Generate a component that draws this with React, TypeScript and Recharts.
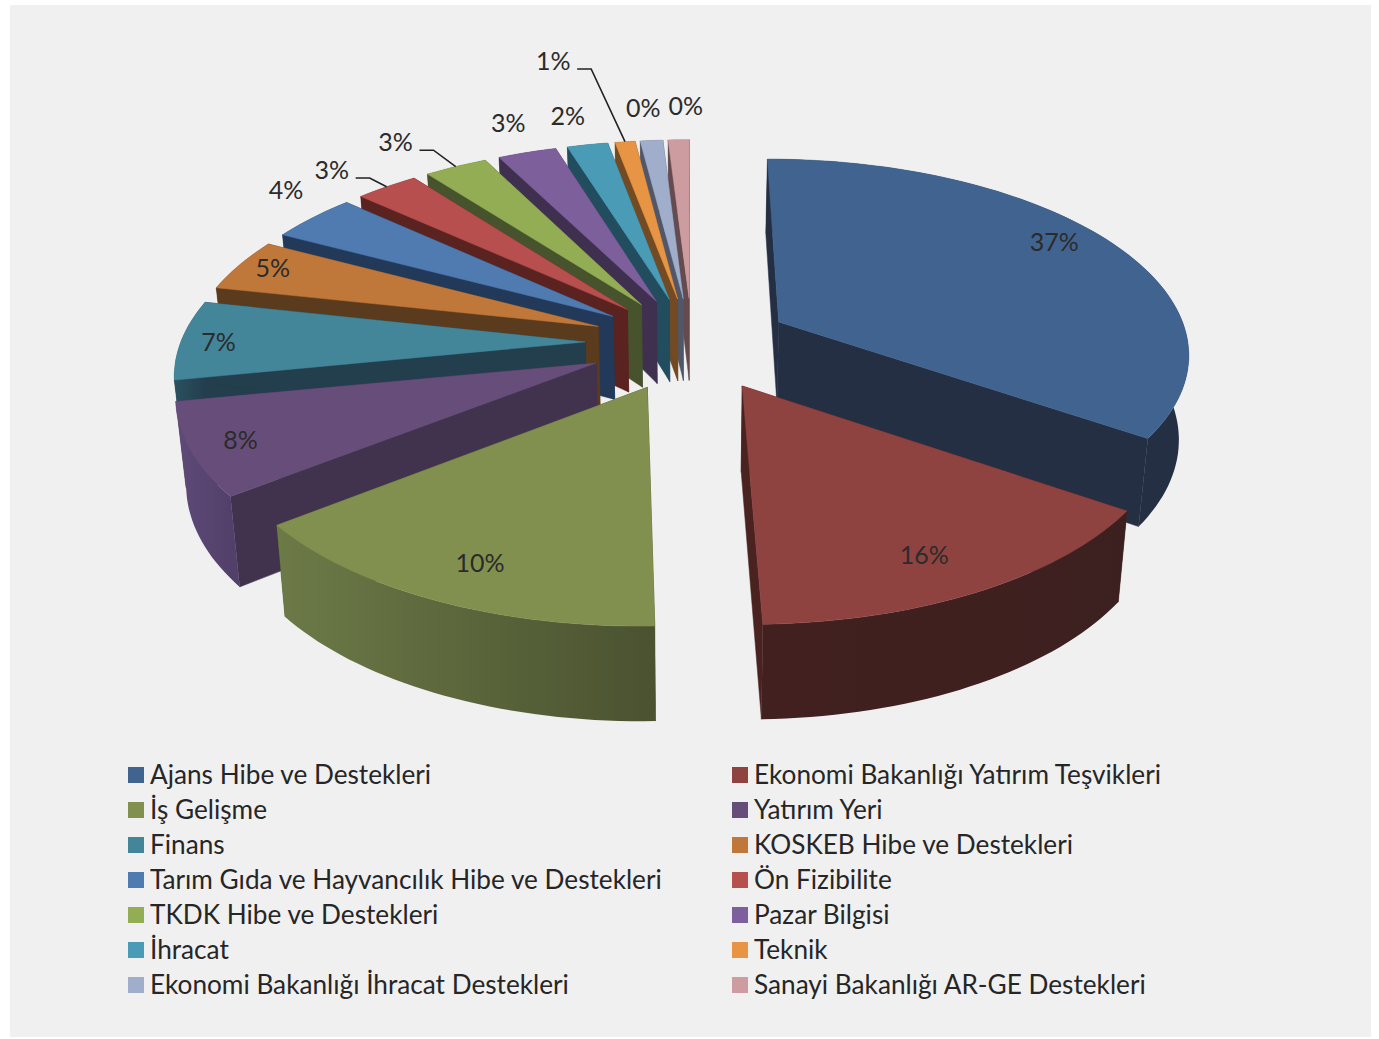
import React from 'react';
import { PieChart, Pie, Legend } from 'recharts';

const names = [
  'Ajans Hibe ve Destekleri', 'Ekonomi Bakanlığı Yatırım Teşvikleri', 'İş Gelişme', 'Yatırım Yeri',
  'Finans', 'KOSKEB Hibe ve Destekleri', 'Tarım Gıda ve Hayvancılık Hibe ve Destekleri', 'Ön Fizibilite',
  'TKDK Hibe ve Destekleri', 'Pazar Bilgisi', 'İhracat', 'Teknik',
  'Ekonomi Bakanlığı İhracat Destekleri', 'Sanayi Bakanlığı AR-GE Destekleri',
];
// Drawn slice shares (sweep of each wedge, in % of the circle)
const drawnShare = [34.17, 15.39, 15.25, 7.61, 6.5, 4.31, 3.92, 2.81, 2.81, 2.61, 1.81, 0.89, 1.0, 0.94];
// Percentages as printed on the chart
const printedLabels = ['37%', '16%', '10%', '8%', '7%', '5%', '4%', '3%', '3%', '3%', '2%', '1%', '0%', '0%'];

const topColors = ['#40648f', '#8f4340', '#81904f', '#674e7a', '#43869a', '#c0773a', '#4f7bb1', '#b64f4e', '#93ad55', '#7c5f9b', '#4a9cb6', '#e79544', '#a0aecb', '#cc9ca0'];
const cutColors = ['#242f44', '#4a2220', '#4a502f', '#41324e', '#233f4d', '#5a3b1e', '#23395a', '#5a2320', '#46532c', '#3f3050', '#224d5f', '#744a22', '#50576a', '#664b4e'];
const wallLeft = ['#242f44', '#42201f', '#6c7a47', '#5f4a78', '#2a5060', '#5a3b1e', '#23395a', '#5a2320', '#46532c', '#3f3050', '#224d5f', '#744a22', '#50576a', '#664b4e'];
const wallRight = ['#242f44', '#3c2020', '#4a5230', '#53406a', '#233f4d', '#5a3b1e', '#23395a', '#5a2320', '#46532c', '#3f3050', '#224d5f', '#744a22', '#50576a', '#664b4e'];

// Label placement in the plane of the pie: clock angle, distance from the centre
const labelAngle = [57.6, 152, 205, 247, 272, 292.6, 310, 316.8, 326.2, 339.2, 346, 347.3, 354.6, 359.3];
const labelRadius = [459, 440, 444, 465, 476, 478, 587, 591, 610, 600, 599, 766, 608, 610];
const leaderSlices = [7, 8, 11];

// How far each wedge's rim and point are pulled out of the pie
const rimExplode = [97, 100, 100, 100, 100, 100, 100, 100, 100, 100, 100, 100, 100, 100];
const tipExplode = [100, 100, 100, 103, 107, 102, 100, 100, 100, 100, 100, 100, 100, 100];

const table = names.map((name, i) => ({ name, value: drawnShare[i], fill: topColors[i] }));
const tableReversed = [...table].reverse();
const frontSlices = [0, 1];

const FONT = 'Lato, Carlito, sans-serif';
const RADIUS = 414;
const TIP_LIFT = 6;
const PERSP = 0.000285;
const TILT = 0.4692;
const DEPTH = 84.2;
const DEPTH_GROW = 0.000257;
const rad = (d: number) => (d * Math.PI) / 180;

const planePoint = (cx: number, cy: number, u: number, v: number) => {
  const s = 1 / (1 - PERSP * v);
  return { x: cx + u * s, y: cy + TILT * v * s, v };
};
const slicePoint = (cx: number, cy: number, mid: number, e: number, a: number, r: number) =>
  planePoint(cx, cy, e * Math.sin(rad(mid)) + r * Math.sin(rad(a)), -(e * Math.cos(rad(mid)) + r * Math.cos(rad(a))));
const lower = (cx: number, p: { x: number; y: number; v: number }) => ({
  x: cx + (p.x - cx) * 0.98,
  y: p.y + DEPTH * (1 + DEPTH_GROW * p.v),
  v: p.v,
});
const toPath = (pts: { x: number; y: number }[]) =>
  pts.map((p, i) => `${i ? 'L' : 'M'}${p.x.toFixed(1)} ${p.y.toFixed(1)}`).join(' ') + ' Z';

const Wedge = (props: any, show: (i: number) => boolean) => {
  const i = names.indexOf(props.name);
  if (i < 0 || !show(i)) return <g />;
  const { cx, cy, outerRadius, startAngle, endAngle } = props;
  const a0 = 90 - Math.max(startAngle, endAngle);
  const a1 = 90 - Math.min(startAngle, endAngle);
  const mid = (a0 + a1) / 2;
  const rawTip = slicePoint(cx, cy, mid, tipExplode[i], a0, 0);
  const tip = { ...rawTip, y: rawTip.y - TIP_LIFT };
  const arc: { x: number; y: number; v: number }[] = [];
  const steps = Math.max(2, Math.ceil((a1 - a0) / 1.5));
  for (let k = 0; k <= steps; k++) arc.push(slicePoint(cx, cy, mid, rimExplode[i], a0 + ((a1 - a0) * k) / steps, outerRadius));
  const first = arc[0];
  const last = arc[arc.length - 1];
  const gradId = `wall-${i}`;
  const xs = arc.map((p) => p.x);
  const wall = [...arc, ...arc.map((p) => lower(cx, p)).reverse()];
  const cut = (edge: { x: number; y: number; v: number }) => [tip, edge, lower(cx, edge), lower(cx, tip)];
  return (
    <g>
      <defs>
        <linearGradient id={gradId} gradientUnits="userSpaceOnUse" x1={Math.min(...xs)} x2={Math.max(...xs)} y1={0} y2={0}>
          <stop offset="0%" stopColor={wallLeft[i]} />
          <stop offset="100%" stopColor={wallRight[i]} />
        </linearGradient>
      </defs>
      <path d={toPath(cut(first))} fill={cutColors[i]} stroke={cutColors[i]} strokeWidth={0.5} />
      <path d={toPath(cut(last))} fill={cutColors[i]} stroke={cutColors[i]} strokeWidth={0.5} />
      <path d={toPath(wall)} fill={`url(#${gradId})`} />
      <path d={toPath([tip, ...arc])} fill={topColors[i]} stroke={topColors[i]} strokeWidth={0.5} />
    </g>
  );
};

const SliceLabel = (props: any) => {
  const i = names.indexOf(props.name);
  if (i < 0) return null;
  const { cx, cy, outerRadius, startAngle, endAngle } = props;
  const a = labelAngle[i];
  const r = labelRadius[i];
  const p = planePoint(cx, cy, r * Math.sin(rad(a)), -r * Math.cos(rad(a)));
  const ly = p.y - 1;
  const a0 = 90 - Math.max(startAngle, endAngle);
  const a1 = 90 - Math.min(startAngle, endAngle);
  const mid = (a0 + a1) / 2;
  const end = slicePoint(cx, cy, mid, rimExplode[i], mid, outerRadius);
  return (
    <g>
      <text x={p.x} y={ly} textAnchor="middle" dominantBaseline="central" fontFamily={FONT} fontSize={25} fill="#2b2b2b">
        {printedLabels[i]}
      </text>
      {leaderSlices.includes(i) && (
        <polyline
          points={`${p.x + 24},${ly + 9} ${p.x + 38},${ly + 9} ${end.x},${end.y}`}
          fill="none"
          stroke="#222"
          strokeWidth={1.6}
        />
      )}
    </g>
  );
};

const LegendGrid = ({ payload }: any) => {
  const rows = names
    .map((n) => (payload || []).find((e: any) => e.value === n))
    .filter(Boolean);
  return (
    <div
      style={{
        position: 'absolute', left: 128, top: 756, display: 'grid',
        gridTemplateColumns: '604px 604px', gridAutoRows: '35px',
        fontFamily: FONT, fontSize: 26.2, color: '#262626', whiteSpace: 'nowrap',
      }}
    >
      {rows.map((e: any) => (
        <div key={e.value} style={{ display: 'flex', alignItems: 'center', height: 35 }}>
          <span style={{ width: 16, height: 16, background: e.color, display: 'inline-block', marginRight: 6, flex: 'none', position: 'relative', top: 1 }} />
          <span>{e.value}</span>
        </div>
      ))}
    </div>
  );
};

export default function App() {
  return (
    <div style={{ position: 'absolute', left: 0, top: 0, width: 1379, height: 1039, background: '#fff' }}>
      <div style={{ position: 'absolute', left: 10, top: 5, width: 1361, height: 1032, background: '#f0f0f0' }} />
      <div style={{ position: 'absolute', left: 0, top: 0 }}>
        <PieChart width={1379} height={1039} margin={{ top: 0, right: 0, bottom: 0, left: 0 }}>
          <Pie
            data={tableReversed}
            dataKey="value"
            nameKey="name"
            cx={692}
            cy={350}
            outerRadius={RADIUS}
            startAngle={-270}
            endAngle={90}
            legendType="none"
            isAnimationActive={false}
            labelLine={false}
            stroke="none"
            shape={(p: any) => Wedge(p, (i) => !frontSlices.includes(i))}
          />
          <Pie
            data={table}
            dataKey="value"
            nameKey="name"
            cx={692}
            cy={350}
            outerRadius={RADIUS}
            startAngle={90}
            endAngle={-270}
            isAnimationActive={false}
            labelLine={false}
            stroke="none"
            label={SliceLabel}
            shape={(p: any) => Wedge(p, (i) => frontSlices.includes(i))}
          />
          <Legend content={LegendGrid} wrapperStyle={{ left: 0, top: 0, width: 1379, height: 0 }} />
        </PieChart>
      </div>
    </div>
  );
}
